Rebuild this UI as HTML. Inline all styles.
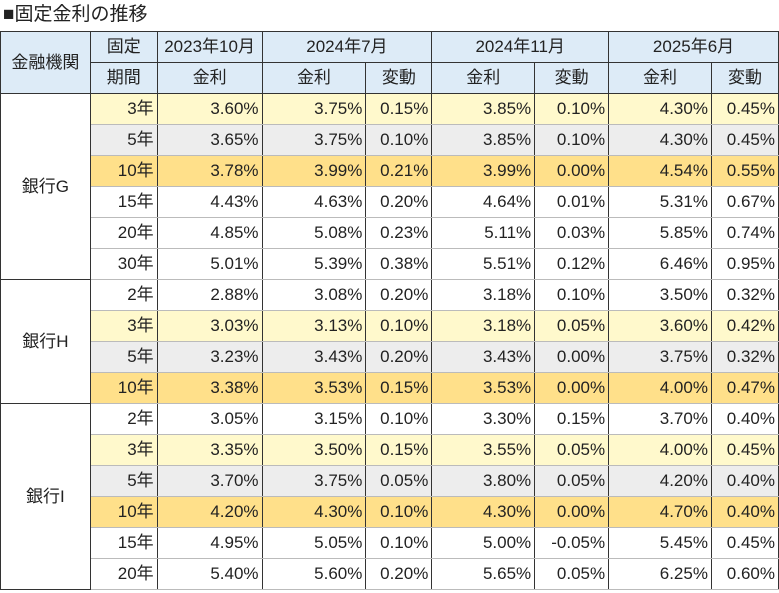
<!DOCTYPE html>
<html><head><meta charset="utf-8">
<style>
body{margin:0;width:779px;height:593px;background:#fff;overflow:hidden;font-family:"Liberation Sans","Noto Sans CJK JP",sans-serif;color:#222;}
#title{position:absolute;left:3px;top:3px;font-size:19px;line-height:24px;}
table{position:absolute;left:0;top:31px;border-collapse:collapse;table-layout:fixed;font-size:17px;}
td,th{padding:0 3px;font-weight:normal;border:1px solid #333;vertical-align:middle;line-height:20px;}
th{background:#ddebf7;text-align:center;height:30px;}
td{height:30px;text-align:right;border-top:1px solid #bbb;border-bottom:1px solid #bbb;}
td span{display:inline-block;vertical-align:middle;}
td.bank{text-align:center;background:#fff;border:1px solid #333;}
tr.y td:not(.bank){background:#fff9cc;}
tr.g td:not(.bank){background:#ededed;}
tr.o td:not(.bank){background:#ffe08a;}
tr.top td{border-top:1px solid #333;}
</style></head><body>
<div id="title">■固定金利の推移</div>
<table>
<colgroup><col style="width:90px"><col style="width:67px"><col style="width:105px"><col style="width:104px"><col style="width:66px"><col style="width:103px"><col style="width:74px"><col style="width:103px"><col style="width:67px"></colgroup>
<thead>
<tr><th rowspan="2">金融機関</th><th>固定</th><th>2023年10月</th><th colspan="2">2024年7月</th><th colspan="2">2024年11月</th><th colspan="2">2025年6月</th></tr>
<tr><th>期間</th><th>金利</th><th>金利</th><th>変動</th><th>金利</th><th>変動</th><th>金利</th><th>変動</th></tr>
</thead>
<tbody id="tb"></tbody>
</table>
<script>
const banks=["銀行G","銀行H","銀行I"];
const terms=[["3年","5年","10年","15年","20年","30年"],["2年","3年","5年","10年"],["2年","3年","5年","10年","15年","20年"]];
const rowStyles=[["y","g","o","","",""],["","y","g","o"],["","y","g","o","",""]];
const values=[
[["3.60%","3.75%","0.15%","3.85%","0.10%","4.30%","0.45%"],["3.65%","3.75%","0.10%","3.85%","0.10%","4.30%","0.45%"],["3.78%","3.99%","0.21%","3.99%","0.00%","4.54%","0.55%"],["4.43%","4.63%","0.20%","4.64%","0.01%","5.31%","0.67%"],["4.85%","5.08%","0.23%","5.11%","0.03%","5.85%","0.74%"],["5.01%","5.39%","0.38%","5.51%","0.12%","6.46%","0.95%"]],
[["2.88%","3.08%","0.20%","3.18%","0.10%","3.50%","0.32%"],["3.03%","3.13%","0.10%","3.18%","0.05%","3.60%","0.42%"],["3.23%","3.43%","0.20%","3.43%","0.00%","3.75%","0.32%"],["3.38%","3.53%","0.15%","3.53%","0.00%","4.00%","0.47%"]],
[["3.05%","3.15%","0.10%","3.30%","0.15%","3.70%","0.40%"],["3.35%","3.50%","0.15%","3.55%","0.05%","4.00%","0.45%"],["3.70%","3.75%","0.05%","3.80%","0.05%","4.20%","0.40%"],["4.20%","4.30%","0.10%","4.30%","0.00%","4.70%","0.40%"],["4.95%","5.05%","0.10%","5.00%","-0.05%","5.45%","0.45%"],["5.40%","5.60%","0.20%","5.65%","0.05%","6.25%","0.60%"]]
];
const tb=document.getElementById('tb');
banks.forEach((b,bi)=>{
  terms[bi].forEach((t,ti)=>{
    const tr=document.createElement('tr');
    
    
    if(rowStyles[bi][ti])tr.classList.add(rowStyles[bi][ti]);
    if(ti===0)tr.classList.add('top');
    if(ti===0){
      const c=document.createElement('td');
      c.className='bank';c.rowSpan=terms[bi].length;c.textContent=b;
      
      
      tr.appendChild(c);
    }
    const tc=document.createElement('td');
    const sp=document.createElement('span');sp.textContent=t;tc.appendChild(sp);
    
    
    tr.appendChild(tc);
    values[bi][ti].forEach(v=>{
      const c=document.createElement('td');c.textContent=v;
      
      
      tr.appendChild(c);
    });
    tb.appendChild(tr);
  });
});
</script>
</body></html>
